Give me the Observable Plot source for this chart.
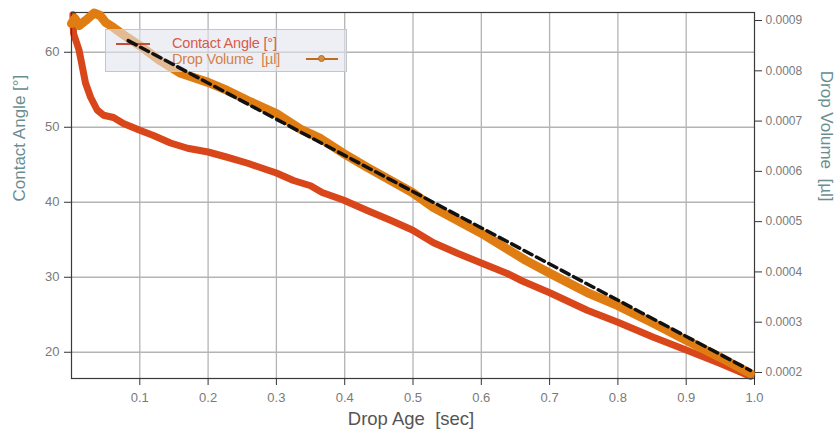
<!DOCTYPE html>
<html>
<head>
<meta charset="utf-8">
<script src="https://cdn.jsdelivr.net/npm/d3@7"></script>
<script src="https://cdn.jsdelivr.net/npm/@observablehq/plot@0.6"></script>
<style>
  html, body { margin: 0; padding: 0; background: #fff; }
  body { font-family: Arial, "Liberation Sans", sans-serif; }
  #wrap { position: relative; width: 839px; height: 443px; overflow: hidden; }
  #wrap .layer { position: absolute; left: 0; top: 0; }
  #legend { position: absolute; left: 105px; top: 29px; width: 242px; height: 43px;
    background: rgba(226,229,236,0.6); border: 1px solid #c4c6cc; box-sizing: border-box; }
  #legend .lt { position: absolute; font-size: 14.5px; line-height: 16px; white-space: pre; letter-spacing: -0.2px; }
  #legend .ln { position: absolute; height: 2px; }
  #legend .mk { position: absolute; width: 7px; height: 7px; border-radius: 50%; box-sizing: border-box; }
</style>
</head>
<body>
<div id="wrap"></div>
<script>
// ---- data ----
const xTicks = [0.1, 0.2, 0.3, 0.4, 0.5, 0.6, 0.7, 0.8, 0.9, 1.0];
const angleTicks = [20, 30, 40, 50, 60];
const volumeTicks = [0.0002, 0.0003, 0.0004, 0.0005, 0.0006, 0.0007, 0.0008, 0.0009];

const angleAge = [0.002, 0.003, 0.011, 0.016, 0.0205, 0.028, 0.0376, 0.047, 0.0615, 0.076,
  0.1, 0.12, 0.145, 0.17, 0.2, 0.228, 0.258, 0.287, 0.3, 0.325, 0.35, 0.367, 0.398, 0.433,
  0.467, 0.499, 0.53, 0.565, 0.6, 0.638, 0.66, 0.701, 0.755, 0.8, 0.852, 0.9, 0.95, 0.994];
const contactAngle = [65.0, 62.5, 60.3, 58.0, 55.9, 54.0, 52.3, 51.6, 51.3, 50.5,
  49.6, 48.9, 47.9, 47.2, 46.7, 46.0, 45.2, 44.3, 43.9, 42.9, 42.2, 41.3, 40.3, 38.9,
  37.6, 36.3, 34.6, 33.2, 31.9, 30.5, 29.5, 27.9, 25.6, 24.0, 22.0, 20.3, 18.5, 16.8];

const volumeAge = [0, 0.005, 0.011, 0.0205, 0.033, 0.042, 0.05, 0.0615, 0.082, 0.1, 0.13,
  0.16, 0.2, 0.228, 0.258, 0.3, 0.335, 0.365, 0.398, 0.433, 0.499, 0.53, 0.6, 0.665, 0.701,
  0.755, 0.8, 0.852, 0.9, 0.95, 0.994];
const dropVolume = [0.000894, 0.000904, 0.00089, 0.0009, 0.000915, 0.00091, 0.000896,
  0.000886, 0.000866, 0.00085, 0.00082, 0.000795, 0.000777, 0.000761, 0.000741, 0.000715,
  0.000684, 0.000665, 0.000636, 0.000608, 0.000558, 0.000528, 0.000477, 0.000423, 0.000397,
  0.000359, 0.000333, 0.000298, 0.000264, 0.00023, 0.000198];

const fitAge = [0.083, 0.994];
const fitVolume = [0.00086, 0.000204];

const labels = {
  x: "Drop Age\u00a0 [sec]",
  yLeft: "Contact Angle [°]",
  yRight: "Drop Volume\u00a0 [µl]",
  legendAngle: "Contact Angle [°]",
  legendVolume: "Drop Volume  [µl]"
};

// ---- tables for the library ----
const angleData = angleAge.map((a, i) => ({age: a, v: contactAngle[i]}));
const volumeData = volumeAge.map((a, i) => ({age: a, v: dropVolume[i]}));
const fitData = fitAge.map((a, i) => ({age: a, v: fitVolume[i]}));

const W = 839, H = 443;
const common = {
  width: W, height: H,
  marginLeft: 71, marginRight: 85, marginTop: 12, marginBottom: 65,
  style: {background: "transparent", fontFamily: "Arial, 'Liberation Sans', sans-serif", fontSize: "13px", overflow: "visible"},
  x: {domain: [0, 1]}
};
const angleDomain = [16.5, 65.3];
const volumeDomain = [0.000188, 0.000916];

const p1 = Plot.plot({
  ...common,
  y: {domain: angleDomain},
  marks: [
    Plot.gridX(xTicks.slice(0, -1), {stroke: "#b4b4b4", strokeOpacity: 1, strokeWidth: 1.3}),
    Plot.gridY(angleTicks, {stroke: "#b4b4b4", strokeOpacity: 1, strokeWidth: 1.3}),
    Plot.line(angleData, {x: "age", y: "v", stroke: "#d9461a", strokeWidth: 7, strokeLinejoin: "round", strokeLinecap: "round"}),
    Plot.frame({stroke: "#3a3a3a", strokeWidth: 1.2}),
    Plot.axisX(xTicks, {tickFormat: d3.format(".1f"), tickSize: 7, tickPadding: 7, stroke: "#333", fill: "#7a7a7a", fontSize: 13, label: null}),
    Plot.axisY(angleTicks, {tickSize: 7, tickPadding: 5, stroke: "#333", fill: "#7a7a7a", fontSize: 13, label: null}),
    Plot.text([labels.yLeft], {text: d => d, frameAnchor: "left", dx: -52, dy: 6, rotate: -90, fontSize: 17, fill: "#6a8e90"}),
    Plot.text([labels.x], {text: d => d, frameAnchor: "bottom", dx: -2, dy: 46, fontSize: 18.5, fill: "#555"})
  ]
});

const p2 = Plot.plot({
  ...common,
  x: {domain: [0, 1], axis: null},
  y: {domain: volumeDomain},
  marks: [
    Plot.line(volumeData, {x: "age", y: "v", stroke: "#e07d12", strokeWidth: 9, strokeLinejoin: "round", strokeLinecap: "round"}),
    Plot.axisY(volumeTicks, {anchor: "right", tickFormat: d3.format(".4f"), tickSize: 7, tickPadding: 4, stroke: "#333", fill: "#7a7a7a", fontSize: 12, label: null}),
    Plot.text([labels.yRight], {text: d => d, frameAnchor: "right", dx: 72, dy: 6, rotate: 90, fontSize: 17, fill: "#6a8e90"})
  ]
});

const p3 = Plot.plot({
  ...common,
  x: {domain: [0, 1], axis: null},
  y: {domain: volumeDomain, axis: null},
  marks: [
    Plot.line(fitData, {x: "age", y: "v", stroke: "#111", strokeWidth: 3.5, strokeDasharray: "9,5"})
  ]
});

const wrap = document.getElementById("wrap");
[p1, p2].forEach(p => { p.classList.add("layer"); wrap.appendChild(p); });

const legend = document.createElement("div");
legend.id = "legend";
legend.innerHTML = `
  <div class="ln" style="left:10px;top:13px;width:34px;background:#c0503a;"></div>
  <div class="lt" style="left:66px;top:5px;color:#d75a4c;">${labels.legendAngle}</div>
  <div class="lt" style="left:66px;top:21px;color:#d2824a;">${labels.legendVolume}</div>
  <div class="ln" style="left:200px;top:28px;width:32px;background:#c06a1a;"></div>
  <div class="mk" style="left:212px;top:25px;background:#d49040;border:1.5px solid #b86a20;"></div>
`;
wrap.appendChild(legend);

p3.classList.add("layer");
wrap.appendChild(p3);
</script>
</body>
</html>
